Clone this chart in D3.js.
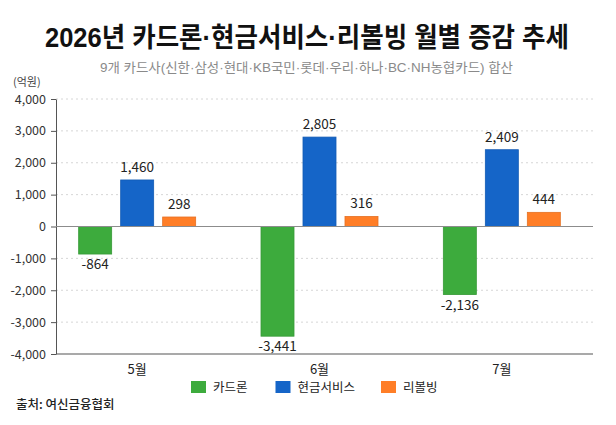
<!DOCTYPE html>
<html>
<head>
<meta charset="utf-8">
<script src="https://cdn.jsdelivr.net/npm/d3@7"></script>
<style>
  html, body { margin: 0; padding: 0; background: #fff; }
  svg { display: block; font-family: "Noto Sans CJK KR", "Noto Sans", sans-serif; }
</style>
</head>
<body>
<svg></svg>
<script>
const svgWidth = 616;
const svgHeight = 425;

const months = ["5월", "6월", "7월"];
const series = ["카드론", "현금서비스", "리볼빙"];
const cardLoan = [-864, -3441, -2136];
const cashService = [1460, 2805, 2409];
const revolving = [298, 316, 444];
const yTicks = [4000, 3000, 2000, 1000, 0, -1000, -2000, -3000, -4000];
const colors = ["#3dab3d", "#1565c8", "#ff7e27"];

const svg = d3.select("svg")
	.attr("width", svgWidth)
	.attr("height", svgHeight);

const left = 56, right = 593;
// Latin font first so the middle dot stays narrow, Korean falls back to CJK
const mixedFont = "\"Liberation Sans\", \"Noto Sans CJK KR\", sans-serif";

let yScale = d3.scaleLinear()
	.domain([-4000, 4000])
	.range([354, 99]);

let xScale = d3.scaleBand()
	.domain(months)
	.range([46, 593]);

let xInner = d3.scaleBand()
	.domain(series)
	.range([-58.5, 58.5])
	.paddingInner(0.214);

let colorScale = d3.scaleOrdinal().domain(series).range(colors);

const fmt = d => (d < 0 ? "-" : "") + d3.format(",")(Math.abs(d));

// rows for drawing
const values = [cardLoan, cashService, revolving];
let rows = [];
months.forEach((m, i) => {
	series.forEach((s, j) => {
		rows.push({ month: m, series: s, value: values[j][i] });
	});
});

// Title
svg.append("text")
	.text("2026년 카드론·현금서비스·리볼빙 월별 증감 추세")
	.attr("x", 45)
	.attr("y", 47)
	.attr("font-size", 27)
	.attr("font-weight", "bold")
	.attr("font-family", mixedFont)
	.attr("fill", "#111")
	.attr("textLength", 524)
	.attr("lengthAdjust", "spacingAndGlyphs");

// Subtitle
svg.append("text")
	.text("9개 카드사(신한·삼성·현대·KB국민·롯데·우리·하나·BC·NH농협카드) 합산")
	.attr("x", 100)
	.attr("y", 72)
	.attr("font-size", 13)
	.attr("font-family", mixedFont)
	.attr("fill", "#8a8a8a")
	.attr("textLength", 413)
	.attr("lengthAdjust", "spacingAndGlyphs");

// Unit
svg.append("text")
	.text("(억원)")
	.attr("x", 13)
	.attr("y", 86)
	.attr("font-size", 11)
	.attr("fill", "#444");

// Grid lines
svg.append("g")
	.selectAll("line")
	.data(yTicks.filter(d => d !== 0 && d !== -4000))
	.enter()
	.append("line")
	.attr("x1", left)
	.attr("x2", right)
	.attr("y1", d => yScale(d))
	.attr("y2", d => yScale(d))
	.attr("stroke", "#d6d6d6")
	.attr("stroke-dasharray", "2,3");

// Y axis
let yAxis = d3.axisLeft(yScale)
	.tickValues(yTicks)
	.tickSize(5)
	.tickSizeOuter(0)
	.tickPadding(5)
	.tickFormat(fmt);

let yG = svg.append("g")
	.attr("transform", `translate(${left}, 0)`)
	.call(yAxis);
yG.select(".domain").attr("stroke", "#555");
yG.selectAll(".tick line").attr("stroke", "#555");
yG.selectAll(".tick text")
	.attr("font-size", 12.5)
	.attr("fill", "#333")
	.attr("font-family", "\"Noto Sans CJK KR\", sans-serif");

// Bars
svg.append("g")
	.selectAll("rect")
	.data(rows)
	.enter()
	.append("rect")
	.attr("x", d => xScale(d.month) + xScale.bandwidth() / 2 + xInner(d.series))
	.attr("y", d => yScale(Math.max(0, d.value)))
	.attr("width", xInner.bandwidth())
	.attr("height", d => Math.abs(yScale(d.value) - yScale(0)))
	.attr("fill", d => colorScale(d.series))
	.attr("stroke", d => d3.color(colorScale(d.series)).darker(0.3))
	.attr("stroke-width", 0.8);

// Value labels
svg.append("g")
	.selectAll("text")
	.data(rows)
	.enter()
	.append("text")
	.text(d => fmt(d.value))
	.attr("x", d => xScale(d.month) + xScale.bandwidth() / 2 + xInner(d.series) + xInner.bandwidth() / 2)
	.attr("y", d => d.value >= 0 ? yScale(d.value) - 8 : yScale(d.value) + 15)
	.attr("text-anchor", "middle")
	.attr("font-size", 13.5)
	.attr("fill", "#222");

// Zero line
svg.append("line")
	.attr("x1", left)
	.attr("x2", right)
	.attr("y1", yScale(0))
	.attr("y2", yScale(0))
	.attr("stroke", "#8c8c8c")
	.attr("stroke-width", 1.2);

// X axis
let xAxis = d3.axisBottom(xScale)
	.tickSize(0)
	.tickPadding(11);

let xG = svg.append("g")
	.attr("transform", `translate(0, ${yScale(-4000)})`)
	.call(xAxis);
xG.select(".domain").remove();
xG.selectAll(".tick text")
	.attr("font-size", 13)
	.attr("fill", "#222")
	.attr("font-family", "\"Noto Sans CJK KR\", sans-serif");

svg.append("line")
	.attr("x1", left)
	.attr("x2", right)
	.attr("y1", yScale(-4000))
	.attr("y2", yScale(-4000))
	.attr("stroke", "#555")
	.attr("stroke-width", 1.2);

// Legend
const legendX = [191, 275.5, 381];
let legend = svg.append("g")
	.selectAll("g")
	.data(series)
	.enter()
	.append("g")
	.attr("transform", (d, i) => `translate(${legendX[i]}, 381)`);

legend.append("rect")
	.attr("width", 15)
	.attr("height", 12)
	.attr("fill", d => colorScale(d));

legend.append("text")
	.text(d => d)
	.attr("x", 22)
	.attr("y", 11)
	.attr("font-size", 12.5)
	.attr("fill", "#222");

// Source
svg.append("text")
	.text("출처: 여신금융협회")
	.attr("x", 16)
	.attr("y", 409)
	.attr("font-size", 12.5)
	.attr("font-weight", 500)
	.attr("fill", "#222");
</script>
</body>
</html>
